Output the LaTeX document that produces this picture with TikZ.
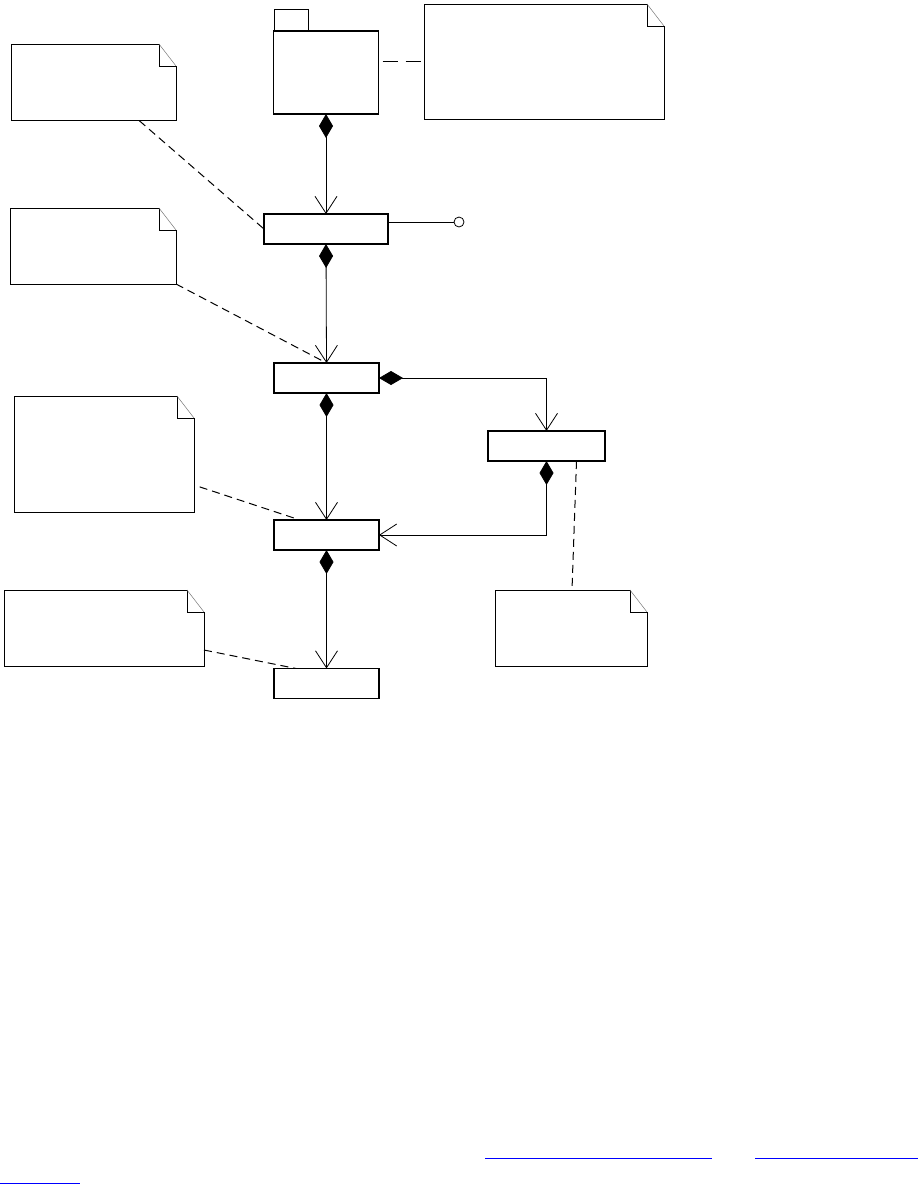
\documentclass[tikz,border=0pt]{standalone}
\usepackage{xcolor}
\usepackage{tikz}
\usetikzlibrary{arrows.meta,calc,positioning}
\definecolor{linkblue}{RGB}{0,0,255}
\definecolor{foldgray}{RGB}{120,120,120}
% dog-eared outline for a comment node
\newcommand{\drawnote}[1]{%
  \draw[line width=0.9pt] ([xshift=-17pt]#1.north east) -- (#1.north west) -- (#1.south west)
    -- (#1.south east) -- ([yshift=-22pt]#1.north east) -- ([xshift=-17pt,yshift=-22pt]#1.north east) -- cycle;
  \draw[foldgray,line width=0.5pt] ([xshift=-17pt]#1.north east) -- ([yshift=-22pt]#1.north east);}

\begin{document}
\begin{tikzpicture}[x=1pt,y=-1pt,
  classbox/.style={draw,line width=1.4pt,inner sep=0pt,outer sep=0pt,minimum height=30pt,minimum width=105pt},
  notebox/.style={inner sep=0pt,outer sep=0pt,minimum height=76pt},
  compose/.style={line width=0.8pt,{Diamond[length=24pt,width=14pt]}-{Straight Barb[length=17pt,width=22pt,line width=0.8pt]}},
  notelink/.style={line width=1pt,dash pattern=on 8pt off 5pt}]
  \useasboundingbox (0,0) rectangle (919,1184);
  % package
  \node[classbox,minimum height=83pt] (pkg) at (326,72.5) {};
  \draw[line width=0.9pt] (pkg.north west) ++(1,0) rectangle ++(34,-22);
  % classes
  \node[classbox,minimum width=124pt] (ctrl) at (326,229) {};
  \node[classbox] (mid) at (326.5,378) {};
  \node[classbox,minimum width=117pt] (side) at (546.5,446) {};
  \node[classbox] (low) at (326.5,535) {};
  \node[classbox] (leaf) at (326.5,683.5) {};
  \node[draw,circle,line width=0.8pt,minimum size=10pt,inner sep=0pt] (lolly) at (459,222) {};
  % comments
  \node[notebox,minimum width=240pt,minimum height=115pt] (noteTR) at (544,61.5) {};
  \node[notebox,minimum width=165pt] (noteA) at (93.5,82) {};
  \node[notebox,minimum width=166pt] (noteB) at (93,246) {};
  \node[notebox,minimum width=180pt,minimum height=116pt] (noteC) at (104,454) {};
  \node[notebox,minimum width=200pt] (noteD) at (104,628) {};
  \node[notebox,minimum width=152pt] (noteE) at (571,628) {};
  \foreach \n in {noteTR,noteA,noteB,noteC,noteD,noteE} {\drawnote{\n}}
  % compositions
  \draw[compose] (pkg.south) -- (ctrl.north);
  \draw[compose] (ctrl.south) -- (mid.north);
  \draw[compose] (mid.south) -- (low.north);
  \draw[compose] (low.south) -- (leaf.north);
  \draw[compose] (mid.east) -| (side.north);
  \draw[compose] (side.south) |- (low.east);
  \draw[line width=0.8pt] (ctrl.east |- lolly) -- (lolly.west);
  % comment links
  \draw[notelink,dash pattern=on 15pt off 8pt,shorten <=4pt] (noteTR.west -| pkg.east) -- (noteTR.west);
  \draw[notelink,shorten <=1pt] ([xshift=45pt]noteA.south) -- (ctrl.west);
  \draw[notelink,shorten >=6pt] (noteB.south east) -- (mid.north);
  \draw[notelink,shorten <=6pt] ([yshift=-31pt]noteC.east) -- ([xshift=26pt]low.north west);
  \draw[notelink] ([yshift=-22pt]noteD.east) -- ([xshift=22pt]leaf.north west);
  \draw[notelink] ([xshift=30pt]side.south) -- ([xshift=1pt]noteE.north);
  % link underlines
  \draw[linkblue,line width=0.9pt] (485,1158) -- (712,1158);
  \draw[linkblue,line width=0.9pt] (755,1158) -- (918,1158);
  \draw[linkblue,line width=0.9pt] (0,1183) -- (80,1183);
\end{tikzpicture}
\end{document}
